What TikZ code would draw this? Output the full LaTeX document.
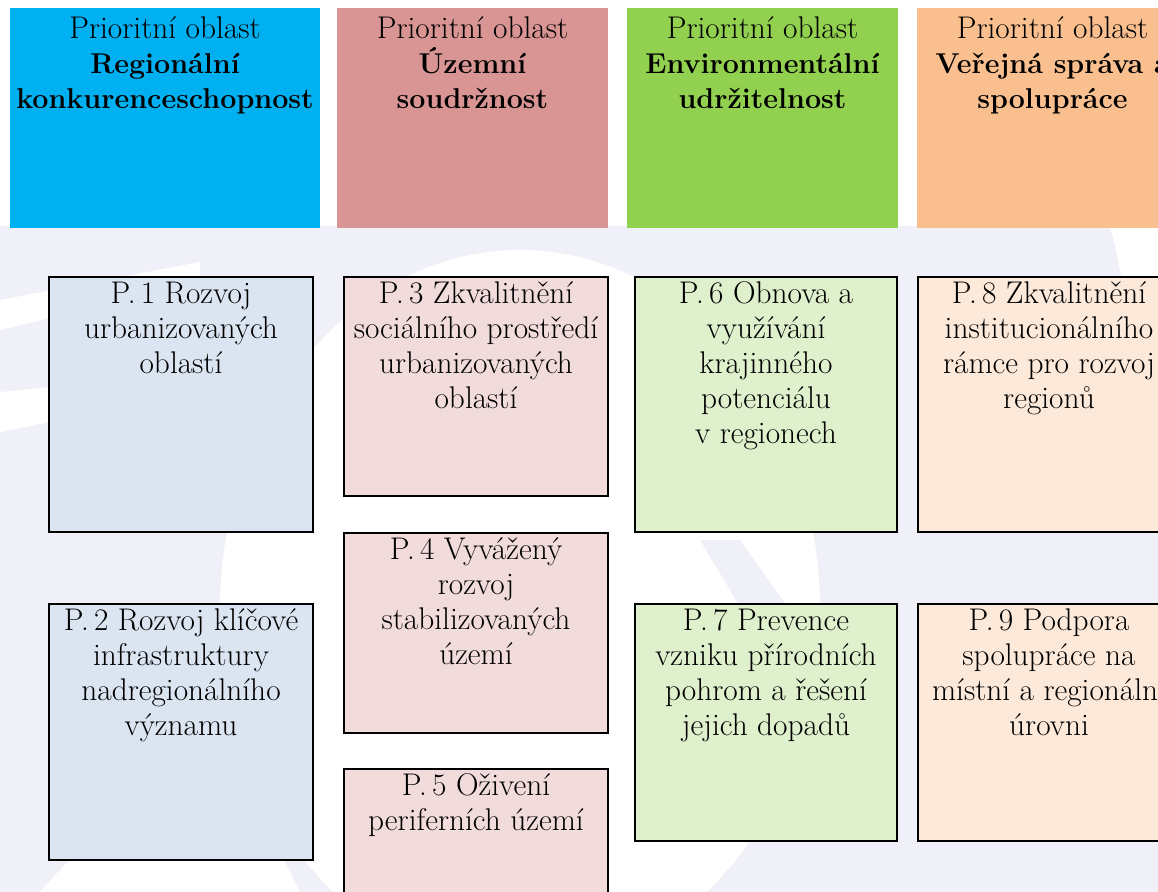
\documentclass[tikz,border=0pt]{standalone}
\usepackage{fontspec}
\definecolor{hA}{HTML}{00B0F0}
\definecolor{hB}{HTML}{D99594}
\definecolor{hC}{HTML}{92D050}
\definecolor{hD}{HTML}{FABF8F}
\definecolor{pA}{HTML}{DBE5F1}
\definecolor{pB}{HTML}{F2DBDB}
\definecolor{pC}{HTML}{DFF0CD}
\definecolor{pD}{HTML}{FDE9D9}
\definecolor{wm}{RGB}{240,240,248}
\newcommand\hbold[1]{{\fontsize{21.5}{26.25}\selectfont\bfseries #1}}
\tikzset{
  hdrbox/.style={rectangle, anchor=north west, inner sep=0pt, outer sep=0pt,
    minimum height=165pt, draw=none},
  pbox/.style={rectangle, anchor=north west, inner sep=0pt, outer sep=0pt,
    draw=black, line width=1pt, minimum width=198pt},
  txt/.style={anchor=north, align=center, inner sep=0pt,
    font=\fontsize{23.5}{26.25}\selectfont},
}
\begin{document}
\begin{tikzpicture}[x=0.75pt,y=-0.75pt]
\path[use as bounding box] (0,0) rectangle (1158,892);
\clip (0,0) rectangle (1158,892);
% faint watermark
\fill[white] (0,0) rectangle (1158,892);
\fill[wm] (0,226) rectangle (1158,892);
\fill[white] (520,610) ellipse [x radius=300, y radius=360];
\fill[white] (0,300) -- (200,262) -- (200,282) -- (0,330) -- cycle;
\fill[white] (0,392) -- (200,372) -- (200,392) -- (0,432) -- cycle;
\fill[wm] (700,540) -- (740,540) -- (790,610) -- (760,640) -- cycle;
\fill[white] (1110,226) .. controls (1130,300) and (1140,420) .. (1158,480) -- (1158,226) -- cycle;
\fill[white] (40,892) .. controls (120,800) and (200,760) .. (230,750) -- (300,892) -- cycle;

% header boxes
\node[hdrbox, fill=hA, minimum width=232.5pt] (h1) at (10,8) {};
\node[hdrbox, fill=hB, minimum width=203.25pt] (h2) at (337,8) {};
\node[hdrbox, fill=hC, minimum width=203.25pt] (h3) at (627,8) {};
\node[hdrbox, fill=hD, minimum width=203.25pt] (h4) at (917,8) {};
\node[txt] (t1) at ([yshift=-6pt]h1.north) {Prioritní oblast\\\hbold{Regionální}\\\hbold{konkurenceschopnost}};
\node[txt] (t2) at ([yshift=-6pt]h2.north) {Prioritní oblast\\\hbold{Územní}\\\hbold{soudržnost}};
\node[txt] (t3) at ([yshift=-6pt]h3.north) {Prioritní oblast\\\hbold{Environmentální}\\\hbold{udržitelnost}};
\node[txt] (t4) at ([yshift=-6pt]h4.north) {Prioritní oblast\\\hbold{Veřejná správa a}\\\hbold{spolupráce}};

% priority boxes
\node[pbox, fill=pA, minimum height=191.25pt] (p1) at (49,277) {};
\node[pbox, fill=pA, minimum height=192pt] (p2) at (49,604) {};
\node[pbox, fill=pB, minimum height=164.25pt] (p3) at (344,277) {};
\node[pbox, fill=pB, minimum height=150pt] (p4) at (344,533) {};
\node[pbox, fill=pB, minimum height=105pt] (p5) at (344,769) {};
\node[pbox, fill=pC, minimum width=196.5pt, minimum height=191.25pt] (p6) at (635,277) {};
\node[pbox, fill=pC, minimum width=196.5pt, minimum height=177.75pt] (p7) at (635,604) {};
\node[pbox, fill=pD, minimum width=196.5pt, minimum height=191.25pt] (p8) at (918,277) {};
\node[pbox, fill=pD, minimum width=196.5pt, minimum height=177.75pt] (p9) at (918,604) {};

\node[txt] (q1) at ([yshift=-3.5pt]p1.north) {P.\,1 Rozvoj\\urbanizovaných\\oblastí};
\node[txt] (q2) at ([yshift=-3.5pt]p2.north) {P.\,2 Rozvoj klíčové\\infrastruktury\\nadregionálního\\významu};
\node[txt] (q3) at ([yshift=-3.5pt]p3.north) {P.\,3 Zkvalitnění\\sociálního prostředí\\urbanizovaných\\oblastí};
\node[txt] (q4) at ([yshift=-3.5pt]p4.north) {P.\,4 Vyvážený\\rozvoj\\stabilizovaných\\území};
\node[txt] (q5) at ([yshift=-3.5pt]p5.north) {P.\,5 Oživení\\periferních území};
\node[txt] (q6) at ([yshift=-3.5pt]p6.north) {P.\,6 Obnova a\\využívání\\krajinného\\potenciálu\\v regionech};
\node[txt] (q7) at ([yshift=-3.5pt]p7.north) {P.\,7 Prevence\\vzniku přírodních\\pohrom a řešení\\jejich dopadů};
\node[txt] (q8) at ([yshift=-3.5pt]p8.north) {P.\,8 Zkvalitnění\\institucionálního\\rámce pro rozvoj\\regionů};
\node[txt] (q9) at ([yshift=-3.5pt]p9.north) {P.\,9 Podpora\\spolupráce na\\místní a regionální\\úrovni};
\end{tikzpicture}
\end{document}
